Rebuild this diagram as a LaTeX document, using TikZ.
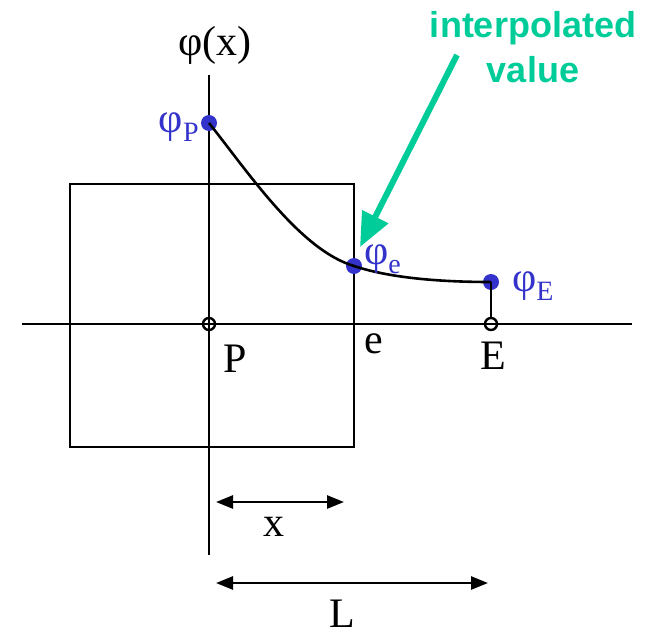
\documentclass[tikz,border=0pt]{standalone}
\usepackage{fontspec}
\setmainfont{Liberation Serif}
\newfontfamily\notefont{Liberation Sans}
\usetikzlibrary{arrows.meta,positioning}
\definecolor{ptblue}{RGB}{51,51,204}
\definecolor{notegreen}{RGB}{0,204,153}
% phi with a lowered subscript
\newcommand{\phisub}[1]{φ\raisebox{-9pt}{\fontsize{28}{30}\selectfont #1}}

\begin{document}
\begin{tikzpicture}[x=1pt, y=-1pt,
	axis/.style={line width=2.7pt},
	gridpt/.style={circle, draw, line width=2.4pt, inner sep=0pt, minimum size=12pt},
	valpt/.style={circle, fill=ptblue, inner sep=0pt, minimum size=16pt},
	lbl/.style={font=\fontsize{42}{44}\selectfont, inner sep=0pt},
	vlbl/.style={lbl, text=ptblue},
	dimarrow/.style={line width=2.6pt, {Triangle[length=17pt,width=13pt]}-{Triangle[length=17pt,width=13pt]}}
	]

	\useasboundingbox (0,0) rectangle (650,637);

	% control volume
	\draw[axis] (70,184) rectangle (354,447);

	% axes
	\coordinate (ytop) at (209,75);
	\coordinate (ybot) at (209,555);
	\coordinate (xleft) at (22,324);
	\coordinate (xright) at (632,324);
	\draw[axis] (ytop) -- (ybot);
	\draw[axis] (xleft) -- (xright);
	\node[lbl] (ylabel) at (215,45) {φ(x)};

	% grid points and face
	\node[gridpt] (P) at (209,324) {};
	\node[gridpt] (E) at (491,324) {};
	\coordinate (e) at (354,324);
	\node[lbl, anchor=center] (Plabel) at (235,359) {P};
	\node[lbl, anchor=center] (elabel) at (374,344) {e};
	\node[lbl, anchor=center] (Elabel) at (493,356) {E};

	% values
	\node[valpt] (phiP) at (209,123) {};
	\node[valpt] (phie) at (354,266) {};
	\node[valpt] (phiE) at (491,282) {};
	\draw[axis] (phiE.center) -- (E);
	\draw[line width=2.6pt] (phiP.center) .. controls (248,172) and (300,250) .. (phie.center)
		.. controls (390,278) and (440,282) .. (phiE.center);
	\node[vlbl, anchor=base east] (phiPlabel) at (199,132) {\phisub{P}};
	\node[vlbl, anchor=base west] (phielabel) at (364,264) {\phisub{e}};
	\node[vlbl, anchor=base west] (phiElabel) at (512,291) {\phisub{E}};

	% interpolated value note
	\node[font=\notefont\bfseries\fontsize{36}{45}\selectfont, text=notegreen, align=center, anchor=base, inner sep=0pt]
		(note) at (533,82) {interpolated\\value};
	\coordinate (notetail) at (457,55);
	\coordinate (notetip) at (360,247);
	\draw[notegreen, line width=6pt, -{Triangle[length=34pt,width=28pt]}] (notetail) -- (notetip);

	% distances
	\coordinate (xa) at (216,502);
	\coordinate (xb) at (344,502);
	\draw[dimarrow] (xa) -- (xb);
	\node[lbl] (xlabel) at (274,527) {x};
	\coordinate (La) at (216,583);
	\coordinate (Lb) at (488,583);
	\draw[dimarrow] (La) -- (Lb);
	\node[lbl] (Llabel) at (342,614) {L};

\end{tikzpicture}
\end{document}
